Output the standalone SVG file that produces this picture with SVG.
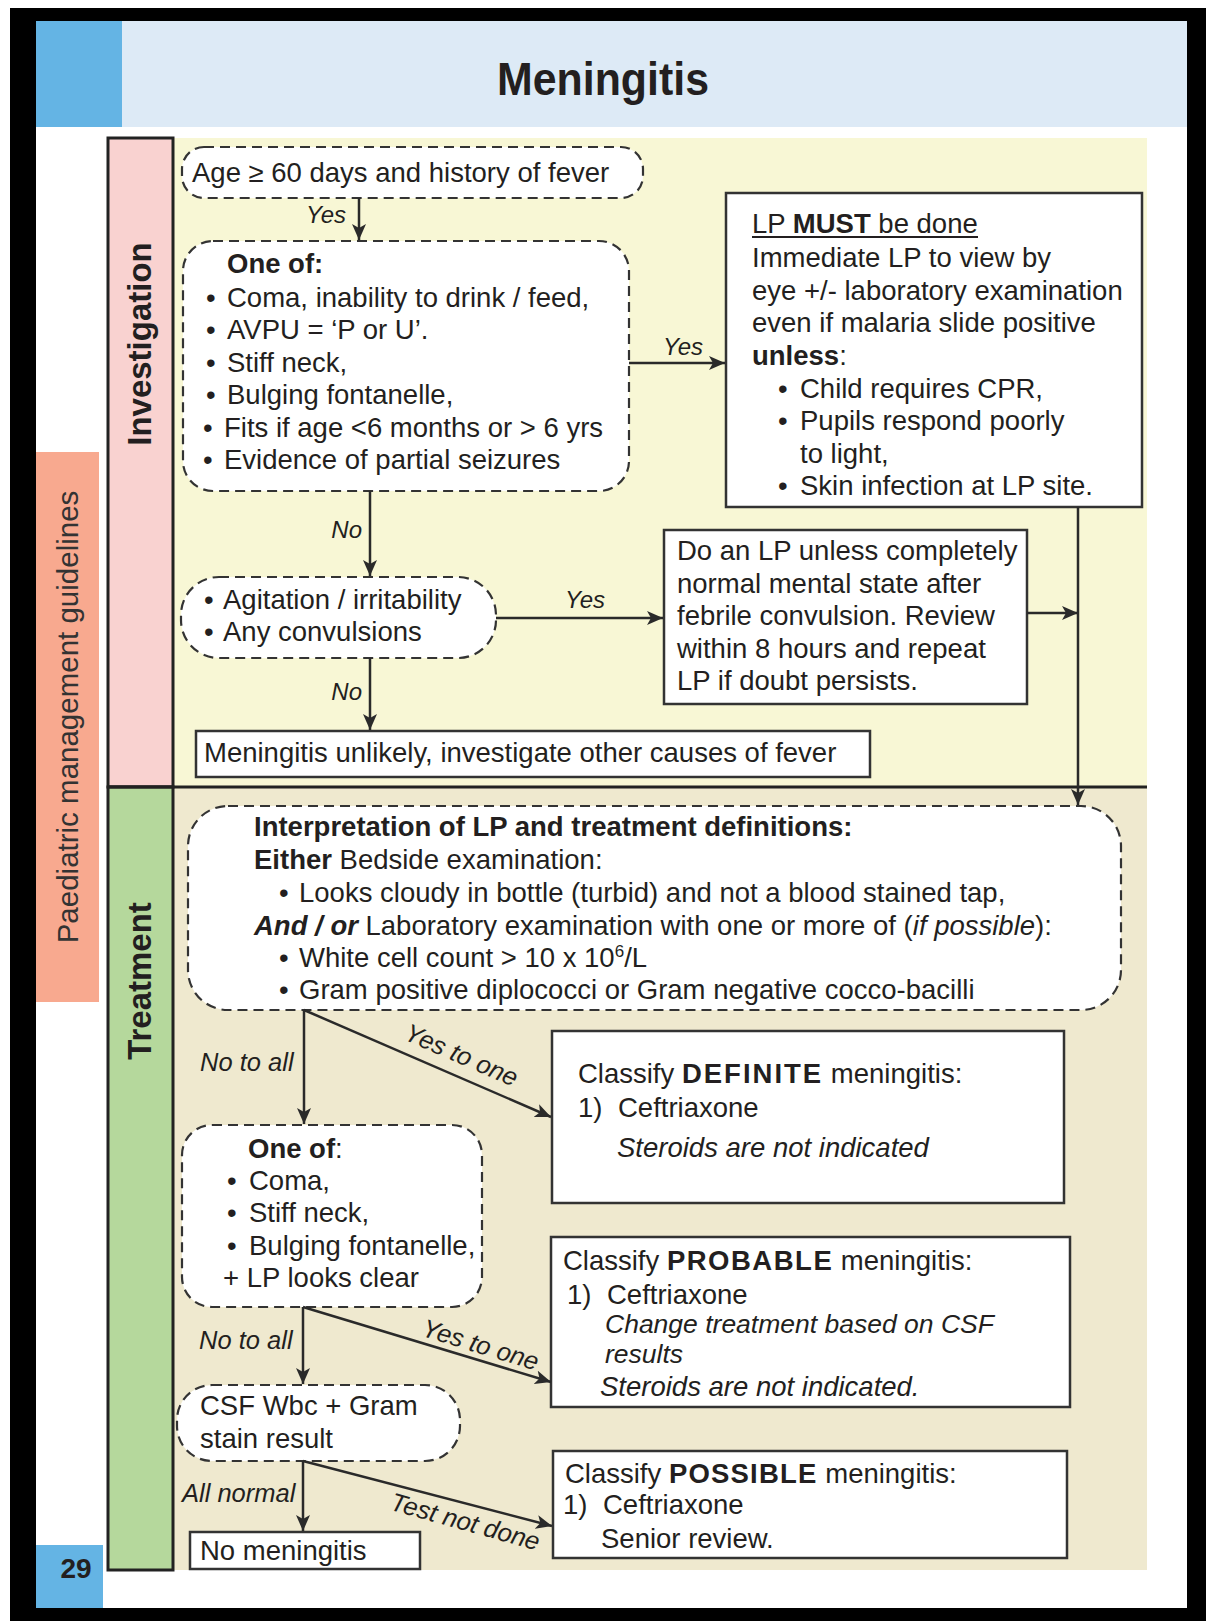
<svg xmlns="http://www.w3.org/2000/svg" width="1206" height="1621" viewBox="0 0 1206 1621">
<defs>
<style>
.t{font-family:"Liberation Sans",Arial,sans-serif;font-size:27.5px;fill:#231f20}
.b{font-weight:bold}
.i{font-style:italic}
.lbl{font-family:"Liberation Sans",Arial,sans-serif;font-size:24px;font-style:italic;fill:#231f20}
.lbl2{font-family:"Liberation Sans",Arial,sans-serif;font-size:25.5px;font-style:italic;fill:#231f20}
.dash{fill:#fff;stroke:#333;stroke-width:2.2;stroke-dasharray:10 6}
.solid{fill:#fff;stroke:#333;stroke-width:2.5}
.conn{stroke:#2a2a2a;stroke-width:2.5;fill:none;marker-end:url(#ah)}
</style>
<marker id="ah" markerUnits="userSpaceOnUse" markerWidth="16" markerHeight="14" refX="16" refY="7" orient="auto">
<path d="M0,0 L16,7 L0,14 L4,7 z" fill="#2a2a2a"/>
</marker>
</defs>
<rect x="0" y="0" width="1206" height="1621" fill="#fff"/>
<rect x="10" y="8" width="1196" height="1613" fill="#000"/>
<rect x="36" y="21" width="1151" height="1587" fill="#fff"/>
<g id="header">
<rect x="36" y="21" width="86" height="106" fill="#64b4e4"/>
<rect x="122" y="21" width="1065" height="106" fill="#ddeaf6"/>
<text class="t b" x="603" y="95" text-anchor="middle" style="font-size:46px" textLength="212" lengthAdjust="spacingAndGlyphs">Meningitis</text>
</g>
<g id="side-band">
<rect x="36" y="452" width="63" height="550" fill="#f8a98f"/>
<text class="t" transform="translate(78,717) rotate(-90)" text-anchor="middle" style="font-size:29.5px;fill:#333">Paediatric management guidelines</text>
</g>
<g id="page-number">
<rect x="36" y="1545" width="67" height="63" fill="#64b4e4"/>
<text class="t b" x="76" y="1578" text-anchor="middle" style="font-size:28px">29</text>
</g>
<g id="areas">
<rect x="173" y="138" width="974" height="649" fill="#f8f7d5"/>
<rect x="173" y="787" width="974" height="783" fill="#efe9cf"/>
</g>
<g id="investigation-column">
<rect x="108" y="138" width="65" height="649" fill="#f9d2d0" stroke="#222" stroke-width="3"/>
<text class="t b" transform="translate(151,344) rotate(-90)" text-anchor="middle" style="font-size:33px">Investigation</text>
</g>
<g id="treatment-column">
<rect x="108" y="787" width="65" height="783" fill="#b5d89c" stroke="#222" stroke-width="3"/>
<text class="t b" transform="translate(151,981) rotate(-90)" text-anchor="middle" style="font-size:33px">Treatment</text>
</g>
<line x1="108" y1="787" x2="1147" y2="787" stroke="#222" stroke-width="3"/>

<g id="n-age">
<rect class="dash" x="182" y="147" width="461" height="51" rx="22"/>
<text class="t" x="192" y="182">Age ≥ 60 days and history of fever</text>
</g>
<g id="n-oneof1">
<rect class="dash" x="183" y="241" width="446" height="250" rx="30"/>
<text class="t b" x="227" y="273">One of:</text>
<text class="t" x="206" y="307">•</text><text class="t" x="227" y="307">Coma, inability to drink / feed,</text>
<text class="t" x="206" y="339">•</text><text class="t" x="227" y="339">AVPU = ‘P or U’.</text>
<text class="t" x="206" y="372">•</text><text class="t" x="227" y="372">Stiff neck,</text>
<text class="t" x="206" y="404">•</text><text class="t" x="227" y="404">Bulging fontanelle,</text>
<text class="t" x="203" y="437">•</text><text class="t" x="224" y="437">Fits if age &lt;6 months or &gt; 6 yrs</text>
<text class="t" x="203" y="469">•</text><text class="t" x="224" y="469">Evidence of partial seizures</text>
</g>
<g id="n-lpmust">
<rect class="solid" x="726" y="193" width="416" height="314"/>
<text class="t" x="752" y="233">LP <tspan class="b">MUST</tspan> be done</text>
<line x1="752" y1="237" x2="978" y2="237" stroke="#231f20" stroke-width="1.8"/>
<text class="t" x="752" y="267">Immediate LP to view by</text>
<text class="t" x="752" y="300">eye +/- laboratory examination</text>
<text class="t" x="752" y="332">even if malaria slide positive</text>
<text class="t" x="752" y="365"><tspan class="b">unless</tspan>:</text>
<text class="t" x="778" y="398">•</text><text class="t" x="800" y="398">Child requires CPR,</text>
<text class="t" x="778" y="430">•</text><text class="t" x="800" y="430">Pupils respond poorly</text>
<text class="t" x="800" y="463">to light,</text>
<text class="t" x="778" y="495">•</text><text class="t" x="800" y="495">Skin infection at LP site.</text>
</g>
<g id="n-agitation">
<rect class="dash" x="181" y="577" width="315" height="81" rx="38"/>
<text class="t" x="204" y="609">•</text><text class="t" x="223" y="609">Agitation / irritability</text>
<text class="t" x="204" y="641">•</text><text class="t" x="223" y="641">Any convulsions</text>
</g>
<g id="n-dolp">
<rect class="solid" x="664" y="530" width="363" height="174"/>
<text class="t" x="677" y="560">Do an LP unless completely</text>
<text class="t" x="677" y="593">normal mental state after</text>
<text class="t" x="677" y="625">febrile convulsion. Review</text>
<text class="t" x="677" y="658">within 8 hours and repeat</text>
<text class="t" x="677" y="690">LP if doubt persists.</text>
</g>
<g id="n-unlikely">
<rect class="solid" x="196" y="731" width="674" height="46"/>
<text class="t" x="204" y="762">Meningitis unlikely, investigate other causes of fever</text>
</g>
<g id="n-interpretation">
<rect class="dash" x="188" y="806" width="933" height="204" rx="40"/>
<text class="t b" x="254" y="836">Interpretation of LP and treatment definitions:</text>
<text class="t" x="254" y="869"><tspan class="b">Either</tspan> Bedside examination:</text>
<text class="t" x="279" y="902">•</text><text class="t" x="299" y="902">Looks cloudy in bottle (turbid) and not a blood stained tap,</text>
<text class="t" x="254" y="935"><tspan class="b i">And / or</tspan> Laboratory examination with one or more of (<tspan class="i">if possible</tspan>):</text>
<text class="t" x="279" y="967">•</text><text class="t" x="299" y="967">White cell count &gt; 10 x 10<tspan dy="-10" style="font-size:17px">6</tspan><tspan dy="10">/L</tspan></text>
<text class="t" x="279" y="999">•</text><text class="t" x="299" y="999">Gram positive diplococci or Gram negative cocco-bacilli</text>
</g>
<g id="n-definite">
<rect class="solid" x="552" y="1031" width="512" height="172"/>
<text class="t" x="578" y="1083">Classify <tspan class="b" style="letter-spacing:2px">DEFINITE</tspan> meningitis:</text>
<text class="t" x="578" y="1117">1)</text><text class="t" x="618" y="1117">Ceftriaxone</text>
<text class="t i" x="617" y="1157">Steroids are not indicated</text>
</g>
<g id="n-oneof2">
<rect class="dash" x="182" y="1125" width="300" height="182" rx="30"/>
<text class="t" x="248" y="1158"><tspan class="b">One of</tspan>:</text>
<text class="t" x="227" y="1190">•</text><text class="t" x="249" y="1190">Coma,</text>
<text class="t" x="227" y="1222">•</text><text class="t" x="249" y="1222">Stiff neck,</text>
<text class="t" x="227" y="1255">•</text><text class="t" x="249" y="1255">Bulging fontanelle,</text>
<text class="t" x="223" y="1287">+ LP looks clear</text>
</g>
<g id="n-probable">
<rect class="solid" x="551" y="1237" width="519" height="170"/>
<text class="t" x="563" y="1270">Classify <tspan class="b" style="letter-spacing:1.5px">PROBABLE</tspan> meningitis:</text>
<text class="t" x="567" y="1304">1)</text><text class="t" x="607" y="1304">Ceftriaxone</text>
<text class="t i" x="605" y="1333" style="font-size:26.5px">Change treatment based on CSF</text>
<text class="t i" x="605" y="1363" style="font-size:26.5px">results</text>
<text class="t i" x="600" y="1396">Steroids are not indicated.</text>
</g>
<g id="n-csf">
<rect class="dash" x="177" y="1385" width="283" height="76" rx="35"/>
<text class="t" x="200" y="1415">CSF Wbc + Gram</text>
<text class="t" x="200" y="1448">stain result</text>
</g>
<g id="n-nomen">
<rect class="solid" x="190" y="1532" width="230" height="37"/>
<text class="t" x="200" y="1560">No meningitis</text>
</g>
<g id="n-possible">
<rect class="solid" x="553" y="1451" width="514" height="107"/>
<text class="t" x="565" y="1483">Classify <tspan class="b" style="letter-spacing:1.2px">POSSIBLE</tspan> meningitis:</text>
<text class="t" x="563" y="1514">1)</text><text class="t" x="603" y="1514">Ceftriaxone</text>
<text class="t" x="601" y="1548">Senior review.</text>
</g>

<g id="connectors">
<line class="conn" x1="359" y1="198" x2="359" y2="240"/>
<line class="conn" x1="629" y1="363" x2="725" y2="363"/>
<line class="conn" x1="370" y1="491" x2="370" y2="576"/>
<line class="conn" x1="496" y1="618" x2="663" y2="618"/>
<line class="conn" x1="370" y1="658" x2="370" y2="730"/>
<line class="conn" x1="1027" y1="613" x2="1078" y2="613"/>
<line class="conn" x1="1078" y1="507" x2="1078" y2="805"/>
<line class="conn" x1="304" y1="1010" x2="304" y2="1124"/>
<line class="conn" x1="304" y1="1010" x2="551" y2="1117"/>
<line class="conn" x1="303" y1="1307" x2="303" y2="1384"/>
<line class="conn" x1="303" y1="1307" x2="551" y2="1382"/>
<line class="conn" x1="303" y1="1461" x2="303" y2="1531"/>
<line class="conn" x1="303" y1="1461" x2="552" y2="1526"/>
<text class="lbl" x="346" y="223" text-anchor="end">Yes</text>
<text class="lbl" x="663" y="355">Yes</text>
<text class="lbl" x="362" y="538" text-anchor="end">No</text>
<text class="lbl" x="565" y="608">Yes</text>
<text class="lbl" x="362" y="700" text-anchor="end">No</text>
<text class="lbl2" x="200" y="1071">No to all</text>
<text class="lbl2" transform="translate(458,1063) rotate(23.4)" text-anchor="middle">Yes to one</text>
<text class="lbl2" x="199" y="1349">No to all</text>
<text class="lbl2" transform="translate(478,1353) rotate(17)" text-anchor="middle">Yes to one</text>
<text class="lbl2" x="182" y="1502">All normal</text>
<text class="lbl2" transform="translate(463,1530) rotate(15.5)" text-anchor="middle">Test not done</text>
</g>
</svg>
